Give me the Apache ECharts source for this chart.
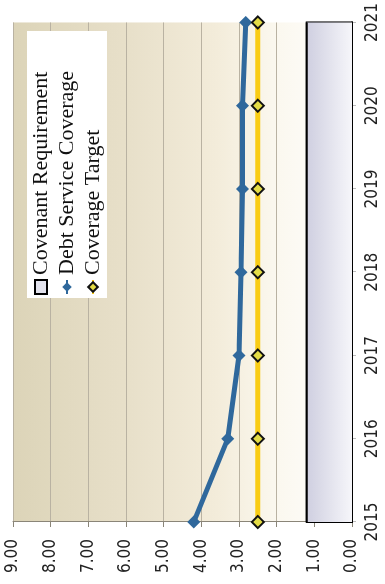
<!DOCTYPE html>
<html>
<head>
<meta charset="utf-8">
<script src="https://cdn.jsdelivr.net/npm/echarts@6/dist/echarts.min.js"></script>
<style>
  html, body { margin: 0; padding: 0; width: 385px; height: 584px; overflow: hidden; background: #ffffff; }
  #chart { position: absolute; left: 0; top: 584px; width: 584px; height: 385px;
           transform-origin: 0 0; transform: rotate(-90deg); }
</style>
</head>
<body>
<div id="chart"></div>
<script>
// Data read from the (rotated) reference chart
const categories = ['2015', '2016', '2017', '2018', '2019', '2020', '2021'];
const debtServiceCoverage = [4.20, 3.30, 3.00, 2.95, 2.91, 2.91, 2.82];
const coverageTarget = [2.50, 2.50, 2.50, 2.50, 2.50, 2.50, 2.50];
const covenantRequirement = [1.20, 1.20, 1.20, 1.20, 1.20, 1.20, 1.20];
const valueTicks = { min: 0, max: 9, interval: 1 };

const chart = echarts.init(document.getElementById('chart'), null, { width: 584, height: 385, renderer: 'canvas' });

const labelFont = "'Liberation Sans Narrow', 'DejaVu Sans Condensed', 'Liberation Sans', sans-serif";
const covenantFill = new echarts.graphic.LinearGradient(0, 0, 0, 1, [
  { offset: 0, color: '#cfcfe0' },
  { offset: 1, color: '#f6f6fa' }
]);

const option = {
  animation: false,
  backgroundColor: '#ffffff',
  grid: {
    left: 62, right: 18, top: 13, bottom: 33,
    show: true,
    borderWidth: 0,
    backgroundColor: new echarts.graphic.LinearGradient(0, 0, 0, 1, [
      { offset: 0, color: '#dcd4b8' },
      { offset: 0.35, color: '#e8e0ca' },
      { offset: 0.6, color: '#f3ecda' },
      { offset: 0.78, color: '#fbf8ef' },
      { offset: 1, color: '#ffffff' }
    ])
  },
  legend: {
    orient: 'vertical',
    left: 286, top: 27,
    backgroundColor: '#ffffff',
    padding: [3, 40, 3, 3],
    itemGap: 4,
    itemWidth: 14,
    itemHeight: 12,
    textStyle: { fontFamily: "'Liberation Serif', 'Times New Roman', serif", fontSize: 22, color: '#111' },
    data: [
      { name: 'Covenant Requirement', icon: 'rect', itemStyle: { color: '#e2e2ec', borderColor: '#000', borderWidth: 2 } },
      { name: 'Debt Service Coverage' },
      { name: 'Coverage Target' }
    ]
  },
  xAxis: {
    type: 'category',
    data: categories,
    boundaryGap: false,
    axisLine: { show: true, lineStyle: { color: '#000', width: 2 } },
    axisTick: { show: true, length: 4, lineStyle: { color: '#bbb' } },
    axisLabel: { margin: 12, fontFamily: labelFont, fontSize: 17, color: '#222' },
    splitLine: { show: false }
  },
  yAxis: {
    type: 'value',
    min: valueTicks.min, max: valueTicks.max, interval: valueTicks.interval,
    axisLine: { show: true, lineStyle: { color: '#8a8578', width: 1 } },
    axisTick: { show: true, length: 5, lineStyle: { color: '#8a8578' } },
    axisLabel: { margin: 17, fontFamily: labelFont, fontSize: 17, color: '#222',
                 formatter: v => v.toFixed(2) },
    splitLine: { show: true, lineStyle: { color: '#b9b2a2', width: 1 } }
  },
  series: [
    {
      name: 'Covenant Requirement',
      type: 'line',
      data: covenantRequirement,
      symbol: 'none',
      lineStyle: { color: '#000', width: 2 },
      itemStyle: { color: '#e2e2ec', borderColor: '#000' },
      areaStyle: { color: covenantFill, opacity: 1 },
      z: 2,
      markArea: {
        silent: true,
        itemStyle: { color: 'rgba(0,0,0,0)', borderColor: '#000', borderWidth: 2 },
        data: [[
          { coord: [categories[0], 0] },
          { coord: [categories[categories.length - 1], covenantRequirement[0]] }
        ]]
      }
    },
    {
      name: 'Debt Service Coverage',
      type: 'line',
      data: debtServiceCoverage,
      symbol: 'diamond',
      symbolSize: 13,
      lineStyle: { color: '#2f689c', width: 5 },
      itemStyle: { color: '#2f689c' },
      z: 3
    },
    {
      name: 'Coverage Target',
      type: 'line',
      data: coverageTarget,
      symbol: 'diamond',
      symbolSize: 12,
      lineStyle: { color: '#f9cc14', width: 5 },
      itemStyle: { color: '#e4dc46', borderColor: '#111', borderWidth: 2 },
      z: 4
    }
  ]
};

chart.setOption(option);
</script>
</body>
</html>
